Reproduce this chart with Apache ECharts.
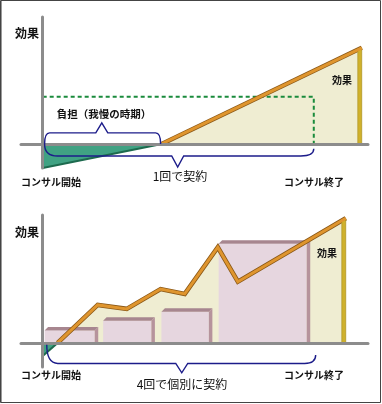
<!DOCTYPE html>
<html>
<head>
<meta charset="utf-8">
<script src="https://cdn.jsdelivr.net/npm/echarts@6/dist/echarts.min.js"></script>
<style>
html,body{margin:0;padding:0;background:#fff;}
#chart{width:382px;height:404px;}
</style>
</head>
<body>
<div id="chart"></div>
<script>
// ---- data (x: time, 0 = consulting start, 10 = consulting end; y: effect) ----
const topBurden = [[0, -25], [4.39, 0]];
const topEffect = [[4.39, 0], [11.77, 100]];
const topTarget = [[0, 49], [10, 49], [10, 0]];
const topEffectEdge = [[11.77, 100]];
// braces: [xStart, yStart, xEnd, yEnd, level, tipX, tipY]
const topBraces = [[0.07, 0, 4.35, 0, 11.5, 2.18, 22], [0.07, 0, 10, -5, -12.5, 4.98, -24]];

const bottomBurden = [[0, -13.5], [0.55, 0]];
const bottomEffect = [[0.55, 0], [2.03, 39.5], [3.1, 35.4], [4.35, 56], [5.24, 51], [6.46, 99.5], [7.2, 63.7], [11.18, 129.7]];
const bottomEffectEdge = [[11.18, 129.7]];
// contracts: [start, end, height]
const bottomContracts = [[0.07, 1.92, 13], [2.23, 4.01, 23.2], [4.38, 6.13, 32.5], [6.49, 9.74, 103]];
const bottomBraces = [[0.15, -2, 10.07, -12.5, -21.3, 5.13, -31]];

const labelEffect = '効果';
const labelBurden = '負担（我慢の時期）';
const labelStart = 'コンサル開始';
const labelEnd = 'コンサル終了';
const labelOnce = '1回で契約';
const labelFour = '4回で個別に契約';

// ---- rendering ----
const FONT = '"Noto Sans CJK JP", "Noto Sans", sans-serif';
const chart = echarts.init(document.getElementById('chart'), null, {renderer: 'canvas'});

function axisPair(idx) {
  return {
    x: {type: 'value', gridIndex: idx, min: -0.8, max: 12, z: 5,
        axisLine: {show: true, onZero: true, lineStyle: {color: '#8c8c8c', width: 3}},
        axisTick: {show: false}, axisLabel: {show: false}, splitLine: {show: false}},
    y: {type: 'value', gridIndex: idx, min: -25, max: idx === 0 ? 132 : 133, z: 5,
        axisLine: {show: true, onZero: true, lineStyle: {color: '#8c8c8c', width: 3}},
        axisTick: {show: false}, axisLabel: {show: false}, splitLine: {show: false}}
  };
}
const a0 = axisPair(0), a1 = axisPair(1);

function braceRender(r) {
  return function (params, api) {
    const A = api.coord([api.value(0), api.value(1)]);
    const B = api.coord([api.value(2), api.value(3)]);
    const L = api.coord([api.value(0), api.value(4)])[1];
    const T = api.coord([api.value(5), api.value(6)]);
    const w = 6;
    const d = 'M' + A[0] + ' ' + A[1] +
      ' Q' + A[0] + ' ' + L + ' ' + (A[0] + r) + ' ' + L +
      ' L' + (T[0] - w) + ' ' + L +
      ' L' + T[0] + ' ' + T[1] +
      ' L' + (T[0] + w) + ' ' + L +
      ' L' + (B[0] - r) + ' ' + L +
      ' Q' + B[0] + ' ' + L + ' ' + B[0] + ' ' + B[1];
    return {type: 'path', shape: {pathData: d}, style: {fill: 'none', stroke: '#1c1c8a', lineWidth: 1.4}};
  };
}

function edgeRender(params, api) {
  const top = api.coord([api.value(0), api.value(1)]);
  const base = api.coord([api.value(0), 0]);
  return {type: 'polygon',
    shape: {points: [[base[0] - 4, base[1]], [base[0] - 4, top[1] + 2], [top[0], top[1]], [base[0], base[1]]]},
    style: {fill: '#cfb12c', stroke: '#a68c1e', lineWidth: 0.6}};
}

function barRender(params, api) {
  const x0 = api.value(0), x1 = api.value(1), h = api.value(2);
  const bl = api.coord([x0, 0]), tr = api.coord([x1, h]);
  const d = 3.5;
  return {type: 'group', children: [
    {type: 'rect', shape: {x: bl[0], y: tr[1], width: tr[0] - bl[0], height: bl[1] - tr[1]}, style: {fill: '#e6d6df'}},
    {type: 'polygon', shape: {points: [[bl[0], tr[1]], [bl[0] + d, tr[1] - d], [tr[0] + d, tr[1] - d], [tr[0], tr[1]]]}, style: {fill: '#a7868f'}},
    {type: 'polygon', shape: {points: [[tr[0], tr[1]], [tr[0] + d, tr[1] - d], [tr[0] + d, bl[1]], [tr[0], bl[1]]]}, style: {fill: '#b6939c'}}
  ]};
}

function areaSeries(data, idx, color, z) {
  return {type: 'line', xAxisIndex: idx, yAxisIndex: idx, data: data, symbol: 'none', z: z,
    lineStyle: {width: 0}, areaStyle: {color: color, opacity: 1, origin: 0}, silent: true};
}
function lineSeries(data, idx, color, width, z, type) {
  return {type: 'line', xAxisIndex: idx, yAxisIndex: idx, data: data, symbol: 'none', z: z,
    lineStyle: {color: color, width: width, type: type || 'solid', join: 'miter', cap: 'butt'}, silent: true};
}

function txt(text, x, y, size, weight, align) {
  return {type: 'text', x: x, y: y, z: 100,
    style: {text: text, font: (weight || 'normal') + ' ' + size + 'px ' + FONT, fill: '#111',
      align: align || 'left', verticalAlign: 'middle'}};
}

const option = {
  animation: false,
  backgroundColor: '#ffffff',
  grid: [
    {left: 21, top: 17, width: 347, height: 151},
    {left: 21, top: 215, width: 347, height: 152}
  ],
  xAxis: [a0.x, a1.x],
  yAxis: [a0.y, a1.y],
  series: [
    // top panel
    areaSeries(topEffect, 0, '#efedd2', 1),
    areaSeries(topBurden, 0, '#40a283', 1),
    lineSeries(topBurden, 0, '#1d6a4e', 2, 2),
    lineSeries(topTarget, 0, '#1a8b3c', 2, 3, [4, 3]),
    lineSeries(topEffect, 0, '#8a5818', 4.6, 3),
    lineSeries(topEffect, 0, '#df952e', 3, 4),
    {type: 'custom', xAxisIndex: 0, yAxisIndex: 0, data: topEffectEdge, renderItem: edgeRender, z: 4, silent: true},
    {type: 'custom', xAxisIndex: 0, yAxisIndex: 0, data: [topBraces[0]], renderItem: braceRender(5), z: 6, silent: true},
    {type: 'custom', xAxisIndex: 0, yAxisIndex: 0, data: [topBraces[1]], renderItem: braceRender(13), z: 6, silent: true},
    // bottom panel
    areaSeries(bottomEffect, 1, '#efedd2', 1),
    areaSeries(bottomBurden, 1, '#40a283', 1),
    lineSeries(bottomBurden, 1, '#1d6a4e', 2, 2),
    {type: 'custom', xAxisIndex: 1, yAxisIndex: 1, data: bottomContracts, renderItem: barRender, z: 2, silent: true},
    lineSeries(bottomEffect, 1, '#8a5818', 4.6, 3),
    lineSeries(bottomEffect, 1, '#df952e', 3, 4),
    {type: 'custom', xAxisIndex: 1, yAxisIndex: 1, data: bottomEffectEdge, renderItem: edgeRender, z: 4, silent: true},
    {type: 'custom', xAxisIndex: 1, yAxisIndex: 1, data: bottomBraces, renderItem: braceRender(11), z: 6, silent: true}
  ],
  graphic: [
    {type: 'rect', z: 100, shape: {x: 0.5, y: 0.5, width: 380, height: 402}, style: {fill: 'none', stroke: '#444', lineWidth: 1}},
    {type: 'line', z: 101, shape: {x1: 1.5, y1: 1, x2: 1.5, y2: 402}, style: {stroke: '#9a9a9a', lineWidth: 1}},
    txt(labelEffect, 15, 33, 12, 'bold'),
    txt(labelBurden, 104, 114, 10.5, 'bold', 'center'),
    txt(labelOnce, 180, 176, 12, 'normal', 'center'),
    txt(labelStart, 21, 182, 10, 'bold'),
    txt(labelEnd, 314, 182, 10, 'bold', 'center'),
    txt(labelEffect, 342, 80, 10, 'bold', 'center'),
    txt(labelEffect, 15, 232, 12, 'bold'),
    txt(labelFour, 182, 384, 12, 'normal', 'center'),
    txt(labelStart, 21, 375, 10, 'bold'),
    txt(labelEnd, 314, 375, 10, 'bold', 'center'),
    txt(labelEffect, 327, 253, 10, 'bold', 'center')
  ]
};
chart.setOption(option);
</script>
</body>
</html>
